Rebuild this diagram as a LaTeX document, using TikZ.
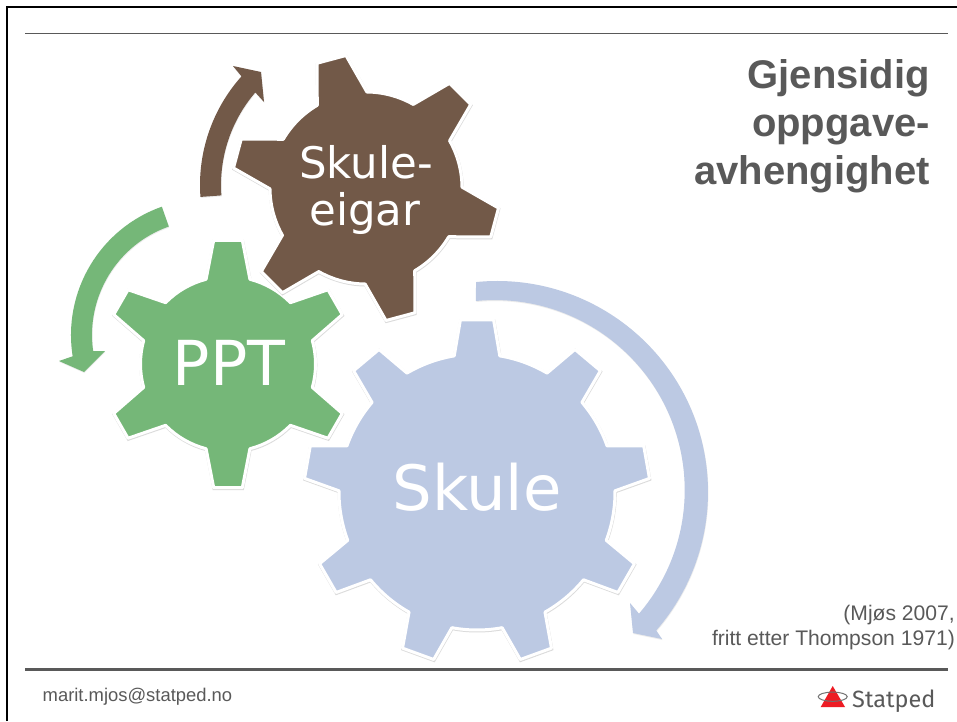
\documentclass[tikz,border=0pt]{standalone}
\usepackage{fontspec}
\usepackage{xcolor}
\setmainfont{Liberation Sans}
\newfontfamily\gearfont{DejaVu Sans}
\newfontfamily\logofont{Fira Sans}
\usetikzlibrary{positioning, shadows}

\definecolor{brownfill}{HTML}{725948}
\definecolor{greenfill}{HTML}{75B778}
\definecolor{bluefill}{HTML}{BCC9E3}
\definecolor{slategrey}{HTML}{595959}
\definecolor{logored}{HTML}{ED1C24}

\tikzset{
  cog/.style={fill=#1, draw=white, line width=3pt, line join=round,
    drop shadow={draw=black, line width=3pt, shadow xshift=0.3pt, shadow yshift=-1pt, opacity=.14}},
  turn/.style={fill=#1, draw=none,
    drop shadow={shadow xshift=0.4pt, shadow yshift=-1pt, opacity=.15}},
  cogtext/.style={text=white, inner sep=0pt, anchor=base, align=center},
  rule/.style={draw=slategrey, line width=#1},
  small/.style={text=slategrey, inner sep=0pt}
}

% style, centre, inner radius, outer radius, teeth, first tooth, base half angle, tip half angle
\newcommand{\cogwheel}[8]{%
  \pgfmathsetmacro{\cogstep}{360/#5}
  \pgfmathtruncatemacro{\coglast}{#5-1}
  \draw[#1, shift={(#2)}] (#6-#7:#3)
    \foreach \k [evaluate=\k as \a using #6+\k*\cogstep] in {0,...,\coglast} {
      -- (\a-#8:#4) -- (\a+#8:#4) -- (\a+#7:#3)
      arc[start angle=\a+#7, end angle=\a+\cogstep-#7, radius=#3]
    } -- cycle;
}

\begin{document}
\begin{tikzpicture}[x=1pt, y=1pt]
\useasboundingbox (0,0) rectangle (957,721);
\fill[white] (0,0) rectangle (957,721);

% Frame and rules
\draw[black, line width=2.6pt] (7,0) -- (7,714) -- (957,714);
\coordinate (topleft) at (25,687.5);
\coordinate (topright) at (948,687.5);
\coordinate (footleft) at (25,52);
\coordinate (footright) at (948,52);
\draw[rule=1.5pt] (topleft) -- (topright);
\draw[rule=3pt] (footleft) -- (footright);

% Gears
\cogwheel{cog=greenfill}{228,357}{87.5}{124.5}{6}{30}{14.5}{6.6}
\cogwheel{cog=bluefill}{477,229}{138}{173}{9}{10}{9.5}{5.5}
\cogwheel{cog=brownfill}{366,533}{96}{134}{6}{45}{15.5}{6.4}

% Gear labels
\node[cogtext, font=\gearfont\fontsize{62}{62}\selectfont] (ppt) at (229,336) {PPT};
\node[cogtext, font=\gearfont\fontsize{62.5}{62.5}\selectfont] (skule) at (477,211) {Skule};
\node[cogtext, font=\gearfont\fontsize{43.5}{48}\selectfont] (eigar) at (365,495) {eigar};
\node[cogtext, font=\gearfont\fontsize{43.5}{48}\selectfont] (skuleeigar) at (366,542.7) {Skule-};

% Turning arrows
\fill[turn=brownfill, shift={(363,536)}] (184.2:163) arc[start angle=184.2, end angle=138.2, radius=163]
  -- (233-363,655-536) -- (261-363,649-536) -- (264-363,619-536) -- (139.3:142)
  arc[start angle=139.3, end angle=184.2, radius=142] -- cycle;
\fill[turn=greenfill, shift={(207,386)}] (109.4:136) arc[start angle=109.4, end angle=189, radius=136]
  -- (59-207,360-386) -- (84-207,349-386) -- (105-207,370-386) -- (188:115)
  arc[start angle=188, end angle=109.4, radius=115] -- cycle;
\fill[turn=bluefill, shift={(497,229)}] (95.7:211) arc[start angle=95.7, end angle=-41, radius=211]
  -- (662-497,82-229) -- (633-497,88-229) -- (630-497,118-229) -- (-40.6:187)
  arc[start angle=-40.6, end angle=95.7, radius=190] -- cycle;

% Title and source
\node[anchor=north east, inner sep=0pt, align=right, text=slategrey,
  font=\bfseries\fontsize{40}{48}\selectfont] (title) at (930,662) {Gjensidig\\oppgave-\\avhengighet};
\node[small, anchor=base east, align=right, font=\fontsize{21.1}{24.5}\selectfont] (source) at (955,76)
  {(Mjøs 2007,\\fritt etter Thompson 1971)};
\node[small, anchor=base west, font=\fontsize{18.4}{22}\selectfont] (mail) at (42.5,19.3) {marit.mjos@statped.no};

% Logo
\fill[logored] (832.7,35) -- (845,14) -- (820.7,14) -- cycle;
\draw[draw=slategrey!85, line width=1pt] (832.7,24.3) ellipse[x radius=14.5, y radius=4.6];
\node[anchor=base west, inner sep=0pt, text=slategrey, font=\logofont\fontsize{23.5}{24}\selectfont] (statped) at (852,14) {Statped};
\end{tikzpicture}
\end{document}
